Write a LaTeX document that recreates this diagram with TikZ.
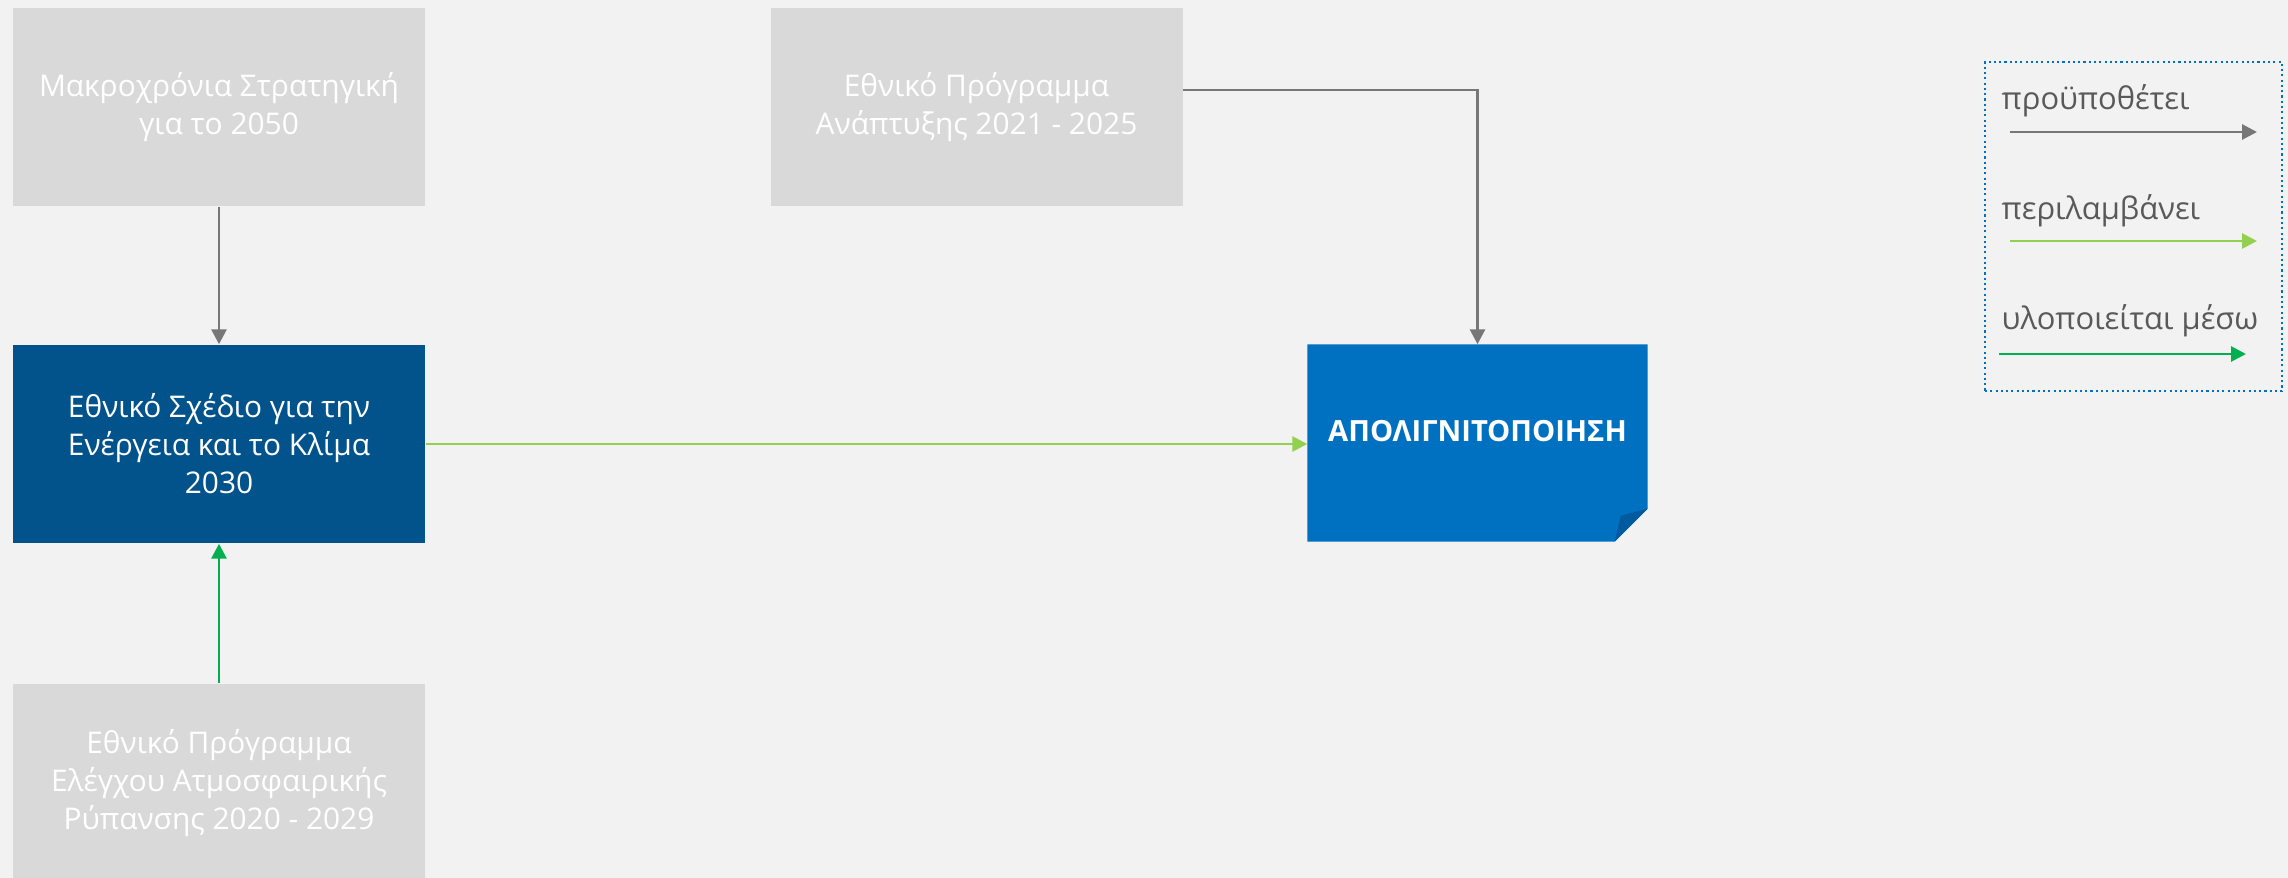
\documentclass[tikz,border=0pt]{standalone}
\usepackage{fontspec}
\setmainfont{Open Sans}
\usepackage{xcolor}
\usepackage{tikz}
\usetikzlibrary{arrows.meta, positioning, backgrounds}
\definecolor{pagebg}{HTML}{F2F2F2}
\definecolor{boxgray}{HTML}{D9D9D9}
\definecolor{esekblue}{RGB}{2,82,140}
\definecolor{ligblue}{HTML}{0070C0}
\definecolor{folddark}{HTML}{005A9E}
\definecolor{arrgray}{HTML}{777777}
\definecolor{incgreen}{HTML}{92D050}
\definecolor{viagreen}{HTML}{00B050}
\definecolor{legtext}{HTML}{595959}

\begin{document}
\begin{tikzpicture}[
  graybox/.style={rectangle, fill=boxgray, text=white, inner sep=0pt,
                minimum width=4.12cm, minimum height=1.98cm,
                font=\fontsize{8.5}{10.8}\selectfont, align=center},
  planbox/.style={graybox, fill=esekblue},
  notebox/.style={rectangle, text=white, inner sep=0pt, text depth=0.24cm,
                minimum width=3.39cm, minimum height=1.96cm,
                font=\bfseries\fontsize{8.3}{10.8}\selectfont},
  legtxt/.style={anchor=base west, inner sep=0pt, text=legtext,
                font=\fontsize{8.8}{11}\selectfont},
  arr/.style={-{Triangle[length=0.15cm, width=0.15cm]}, line width=0.8pt},
  needs/.style={arr, draw=arrgray},
  incl/.style={arr, draw=incgreen},
  via/.style={arr, draw=viagreen}
]
\useasboundingbox (0,0) rectangle (22.88,-8.78);

% Top row
\node[graybox] (strat) at (2.19,-1.07) {Μακροχρόνια Στρατηγική\\για το 2050};
\node[graybox] (epa) at (9.765,-1.07) {Εθνικό Πρόγραμμα\\Ανάπτυξης 2021 - 2025};

% Middle
\node[planbox] (esek) at (2.19,-4.44) {Εθνικό Σχέδιο για την\\Ενέργεια και το Κλίμα\\2030};
\node[notebox] (lig) at (14.775,-4.43) {ΑΠΟΛΙΓΝΙΤΟΠΟΙΗΣΗ};

% Bottom
\node[graybox] (necp) at (2.19,-7.83) {Εθνικό Πρόγραμμα\\Ελέγχου Ατμοσφαιρικής\\Ρύπανσης 2020 - 2029};

% Legend
\node[draw=ligblue, line width=0.5pt, dash pattern=on 0.6pt off 0.9pt,
      minimum width=2.97cm, minimum height=3.29cm] (legend) at (21.335,-2.265) {};
\node[legtxt] (lneeds) at (20.01,-1.10) {προϋποθέτει};
\node[legtxt] (lincl) at (20.01,-2.20) {περιλαμβάνει};
\node[legtxt] (lvia) at (20.01,-3.30) {υλοποιείται μέσω};
\coordinate (n1) at (20.10,-1.32);
\coordinate (n2) at (22.57,-1.32);
\coordinate (i1) at (20.10,-2.41);
\coordinate (i2) at (22.57,-2.41);
\coordinate (v1) at (19.99,-3.54);
\coordinate (v2) at (22.46,-3.54);

% Arrows
\draw[needs] (strat.south) -- (esek.north);
\draw[via] (necp.north) -- (esek.south);
\draw[incl] (esek.east) -- (esek.east -| lig.west);
\draw[needs] ([yshift=0.17cm]epa.east) -| (lig.north);
\draw[needs] (n1) -- (n2);
\draw[incl] (i1) -- (i2);
\draw[via] (v1) -- (v2);

% Page and folded note
\begin{scope}[on background layer]
\fill[pagebg] (0,0) rectangle (22.88,-8.78);
\fill[ligblue] (lig.north west) -- (lig.north east) -- ([yshift=0.33cm]lig.south east)
  -- ([xshift=-0.33cm]lig.south east) -- (lig.south west) -- cycle;
\fill[folddark] ([yshift=0.33cm]lig.south east) -- ([xshift=-0.27cm,yshift=0.26cm]lig.south east)
  -- ([xshift=-0.33cm]lig.south east) -- cycle;
\end{scope}
\end{tikzpicture}
\end{document}
